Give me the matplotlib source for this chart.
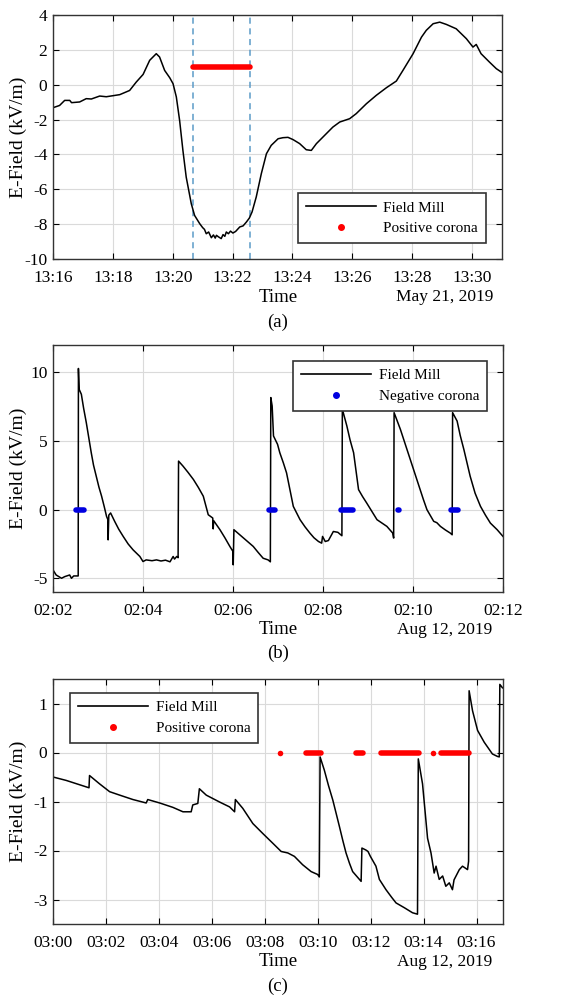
import matplotlib
matplotlib.use("Agg")
import matplotlib.pyplot as plt
from matplotlib.lines import Line2D

plt.rcParams['font.family'] = ['Liberation Serif', 'DejaVu Serif']
plt.rcParams['axes.unicode_minus'] = False

# ---------------- Panel (a): May 21, 2019, minutes after 13:16 ----------------
a_t = [0.00, 0.22, 0.39, 0.56, 0.62, 0.89, 1.11, 1.28, 1.56, 1.78, 2.23, 2.56, 2.78,
       3.01, 3.23, 3.45, 3.56, 3.73, 3.90, 4.01, 4.12, 4.23, 4.34, 4.45, 4.62, 4.73,
       4.90, 5.00, 5.06, 5.12, 5.20, 5.29, 5.36, 5.42, 5.46, 5.52, 5.62, 5.68, 5.74,
       5.79, 5.86, 5.93, 6.01, 6.10, 6.24, 6.35, 6.46, 6.56, 6.65, 6.79, 6.96, 7.13,
       7.29, 7.52, 7.68, 7.85, 8.02, 8.24, 8.46, 8.63, 8.80, 9.13, 9.35, 9.58, 9.91,
       10.13, 10.47, 10.80, 11.14, 11.47, 11.69, 12.03, 12.31, 12.47, 12.70, 12.92,
       13.14, 13.47, 13.81, 14.03, 14.14, 14.30, 14.58, 14.81, 15.00]
a_v = [-1.32, -1.19, -0.90, -0.90, -1.03, -0.99, -0.80, -0.82, -0.65, -0.69, -0.57,
       -0.33, 0.15, 0.59, 1.40, 1.78, 1.59, 0.82, 0.40, 0.06, -0.70, -2.05, -3.77,
       -5.30, -6.83, -7.50, -7.97, -8.20, -8.30, -8.55, -8.45, -8.78, -8.62, -8.80,
       -8.64, -8.72, -8.83, -8.60, -8.70, -8.45, -8.55, -8.40, -8.51, -8.42, -8.16,
       -8.10, -7.88, -7.65, -7.30, -6.44, -5.10, -3.96, -3.48, -3.10, -3.04, -3.02,
       -3.15, -3.38, -3.73, -3.77, -3.38, -2.81, -2.43, -2.14, -1.95, -1.66, -1.09,
       -0.61, -0.17, 0.21, 0.82, 1.78, 2.73, 3.12, 3.50, 3.59, 3.46, 3.21, 2.64, 2.16,
       2.31, 1.78, 1.30, 0.92, 0.70]
a_corona_start = [4.68]
a_corona_end = [6.57]
a_corona_level = 1.0
a_dash = [4.68, 6.57]
a_ticks = [0, 2, 4, 6, 8, 10, 12, 14]
a_ticklabels = ['13:16', '13:18', '13:20', '13:22', '13:24', '13:26', '13:28', '13:30']
a_yticks = [-10, -8, -6, -4, -2, 0, 2, 4]

# ---------------- Panel (b): Aug 12, 2019, minutes after 02:02 ----------------
b_t = [0.00, 0.07, 0.19, 0.26, 0.37, 0.41, 0.46, 0.56, 0.565, 0.58, 0.63, 0.68, 0.74,
       0.80, 0.85, 0.90, 0.96, 1.02, 1.08, 1.14, 1.19, 1.22, 1.225, 1.24, 1.28, 1.37,
       1.46, 1.56, 1.67, 1.78, 1.93, 2.00, 2.07, 2.20, 2.30, 2.40, 2.50, 2.60, 2.67,
       2.70, 2.75, 2.78, 2.79, 2.89, 3.00, 3.12, 3.23, 3.34, 3.45, 3.55, 3.56, 3.57,
       3.71, 3.82, 3.93, 4.00, 4.005, 4.02, 4.15, 4.30, 4.45, 4.56, 4.67, 4.78, 4.83,
       4.84, 4.87, 4.90, 4.99, 5.04, 5.12, 5.19, 5.27, 5.34, 5.42, 5.49, 5.60, 5.71,
       5.80, 5.90, 5.97, 5.99, 6.05, 6.12, 6.23, 6.33, 6.42, 6.43, 6.48, 6.53, 6.60,
       6.68, 6.79, 6.88, 6.97, 7.08, 7.20, 7.30, 7.42, 7.55, 7.57, 7.58, 7.65, 7.72,
       7.83, 7.94, 8.05, 8.16, 8.23, 8.31, 8.46, 8.53, 8.61, 8.72, 8.83, 8.87, 8.88,
       8.98, 9.05, 9.13, 9.20, 9.27, 9.38, 9.50, 9.61, 9.72, 9.87, 10.00]
b_v = [-4.39, -4.76, -5.00, -4.88, -4.76, -5.00, -4.83, -4.83, 10.29, 8.78, 8.41,
       7.40, 6.34, 5.15, 4.15, 3.25, 2.44, 1.65, 0.98, 0.20, -0.49, -0.73, -2.20,
       -0.40, -0.24, -0.85, -1.42, -1.95, -2.50, -2.93, -3.41, -3.78, -3.66, -3.72,
       -3.66, -3.74, -3.68, -3.80, -3.41, -3.60, -3.41, -3.50, 3.54, 3.17, 2.72, 2.20,
       1.62, 0.98, -0.37, -0.61, -1.40, -0.80, -1.46, -2.05, -2.68, -3.05, -4.02,
       -1.46, -1.83, -2.25, -2.68, -3.12, -3.54, -3.66, -3.80, 8.17, 7.56, 5.37, 4.76,
       4.15, 3.40, 2.68, 1.40, 0.24, -0.28, -0.73, -1.25, -1.71, -2.05, -2.32, -2.44,
       -1.95, -2.32, -2.25, -1.59, -1.65, -1.90, 7.32, 6.70, 6.10, 5.10, 4.15, 1.46,
       0.95, 0.49, -0.10, -0.73, -0.95, -1.22, -1.71, -2.07, 7.07, 6.45, 5.85, 4.75,
       3.66, 2.55, 1.46, 0.75, 0.00, -0.85, -0.95, -1.22, -1.48, -1.71, -1.83, 7.07,
       6.46, 5.40, 4.39, 3.40, 2.44, 1.20, 0.24, -0.40, -0.98, -1.46, -1.95]
b_corona_start = [0.50, 4.81, 6.39, 7.66, 8.84]
b_corona_end = [0.68, 4.93, 6.66, 7.68, 9.01]
b_ticks = [0, 2, 4, 6, 8, 10]
b_ticklabels = ['02:02', '02:04', '02:06', '02:08', '02:10', '02:12']
b_yticks = [-5, 0, 5, 10]

# ---------------- Panel (c): Aug 12, 2019, minutes after 03:00 ----------------
c_t = [0.00, 0.50, 1.36, 1.38, 1.76, 2.14, 2.52, 3.02, 3.52, 3.58, 4.03, 4.53, 4.91,
       5.22, 5.28, 5.47, 5.53, 5.79, 6.29, 6.67, 6.86, 6.89, 7.17, 7.55, 7.92, 8.30,
       8.62, 8.87, 9.12, 9.43, 9.75, 10.00, 10.06, 10.09, 10.25, 10.41, 10.57, 10.70,
       10.82, 10.95, 11.07, 11.20, 11.32, 11.64, 11.67, 11.82, 11.90, 11.99, 12.20,
       12.33, 12.58, 12.80, 12.96, 13.28, 13.58, 13.77, 13.80, 13.96, 14.15, 14.28,
       14.40, 14.47, 14.59, 14.72, 14.84, 14.97, 15.09, 15.15, 15.35, 15.47, 15.66,
       15.70, 15.72, 15.85, 16.04, 16.29, 16.60, 16.79, 16.86, 16.88, 16.98]
c_v = [-0.50, -0.57, -0.72, -0.47, -0.64, -0.80, -0.87, -0.96, -1.03, -0.96, -1.03,
       -1.12, -1.21, -1.21, -1.07, -1.04, -0.74, -0.87, -1.01, -1.11, -1.21, -0.96,
       -1.14, -1.45, -1.65, -1.85, -2.02, -2.05, -2.12, -2.29, -2.43, -2.49, -2.54,
       -0.09, -0.36, -0.68, -0.97, -1.25, -1.51, -1.80, -2.05, -2.26, -2.43, -2.63,
       -1.95, -1.99, -2.02, -2.12, -2.32, -2.59, -2.80, -2.96, -3.07, -3.17, -3.27,
       -3.30, -0.13, -0.64, -1.75, -2.05, -2.46, -2.32, -2.59, -2.52, -2.73, -2.66,
       -2.80, -2.60, -2.39, -2.32, -2.39, -2.22, 1.26, 0.85, 0.45, 0.21, -0.03, -0.08,
       -0.09, 1.39, 1.32]
c_corona_start = [8.59, 9.56, 11.45, 12.39, 14.34, 14.65]
c_corona_end = [8.59, 10.13, 11.70, 13.81, 14.34, 15.72]
c_ticks = [0, 2, 4, 6, 8, 10, 12, 14, 16]
c_ticklabels = ['03:00', '03:02', '03:04', '03:06', '03:08', '03:10', '03:12', '03:14', '03:16']
c_yticks = [-3, -2, -1, 0, 1]

W, H = 585, 998
fig = plt.figure(figsize=(W / 100, H / 100), dpi=100)


def make_ax(left, top, right, bottom):
    return fig.add_axes([left / W, 1 - bottom / H, (right - left) / W, (bottom - top) / H])


def style(ax, xlim, ylim, ticks, labels, yticks, width_px):
    ax.set_xlim(*xlim)
    ax.set_ylim(*ylim)
    ax.set_xticks(ticks)
    ax.set_xticklabels(labels)
    ax.set_yticks(yticks)
    ax.grid(True, color='#dadada', lw=0.8)
    ax.set_axisbelow(True)
    ax.tick_params(direction='in', top=True, right=True, labelsize=12.5, length=4,
                   width=0.8)
    ax.tick_params(axis='x', pad=8)
    ax.tick_params(axis='y', pad=4)
    for s in ax.spines.values():
        s.set_linewidth(1.0)
        s.set_color('#333333')
    ax.set_ylabel('E-Field (kV/m)', fontsize=14)
    ax.yaxis.set_label_coords((27 - 53) / width_px, 0.5)


def corona(ax, starts, ends, level, color, lw):
    for s, e in zip(starts, ends):
        if s == e:
            ax.plot([s], [level], 'o', color=color, ms=lw, mec='none', zorder=3)
        else:
            ax.plot([s, e], [level, level], '-', color=color, lw=lw,
                    solid_capstyle='round', zorder=3)


def legend(ax, label, color, loc, anchor):
    handles = [Line2D([], [], color='black', lw=1.2),
               Line2D([], [], color=color, marker='o', ls='none', ms=4)]
    lg = ax.legend(handles, ['Field Mill', label], loc=loc, bbox_to_anchor=anchor,
                   borderaxespad=0, fancybox=False, framealpha=1, edgecolor='#333333',
                   fontsize=11, handlelength=4.6, labelspacing=0.45,
                   handletextpad=0.5, borderpad=0.5)
    lg.get_frame().set_linewidth(1.2)


def captions(date, letter, time_y, letter_y):
    fig.text(278 / W, 1 - time_y / H, 'Time', ha='center', va='center', fontsize=13.5)
    fig.text(445 / W, 1 - time_y / H, date, ha='center', va='center', fontsize=12.5)
    fig.text(278 / W, 1 - letter_y / H, letter, ha='center', va='center', fontsize=13.5)


# Panel a
axa = make_ax(53, 15, 502, 259)
style(axa, (0, 15), (-10, 4), a_ticks, a_ticklabels, a_yticks, 449)
for d in a_dash:
    axa.axvline(d, color='#5b9bc8', ls=(0, (4, 3)), lw=1.1, zorder=1)
axa.plot(a_t, a_v, color='black', lw=1.1, zorder=2)
corona(axa, a_corona_start, a_corona_end, a_corona_level, 'red', 4)
legend(axa, 'Positive corona', 'red', 'lower right', (0.964, 0.066))
captions('May 21, 2019', '(a)', 297, 322)

# Panel b
axb = make_ax(53, 345, 503, 592)
style(axb, (0, 10), (-6, 12), b_ticks, b_ticklabels, b_yticks, 450)
axb.plot(b_t, b_v, color='black', lw=1.1, zorder=2)
corona(axb, b_corona_start, b_corona_end, 0, '#0000e0', 4)
legend(axb, 'Negative corona', '#0000e0', 'upper right', (0.964, 0.935))
captions('Aug 12, 2019', '(b)', 630, 653)

# Panel c
axc = make_ax(53, 679, 503, 924)
style(axc, (0, 17), (-3.5, 1.5), c_ticks, c_ticklabels, c_yticks, 450)
axc.plot(c_t, c_v, color='black', lw=1.1, zorder=2)
corona(axc, c_corona_start, c_corona_end, 0, 'red', 4)
legend(axc, 'Positive corona', 'red', 'upper left', (0.038, 0.943))
captions('Aug 12, 2019', '(c)', 962, 986)

fig.savefig('out.png', dpi=100)
